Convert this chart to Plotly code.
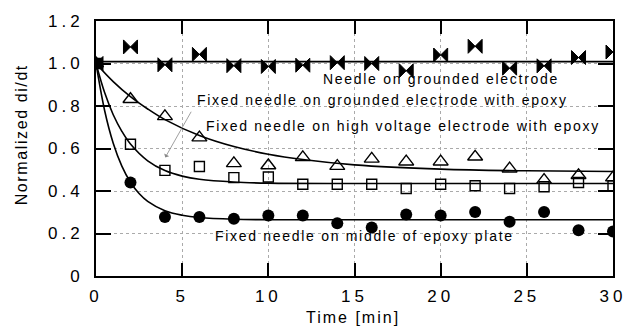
import plotly.graph_objects as go

# ---- data ----
time_min = [0, 2, 4, 6, 8, 10, 12, 14, 16, 18, 20, 22, 24, 26, 28, 30]

needle_grounded = [1.0, 1.078, 0.994, 1.043, 0.99, 0.986, 0.992, 1.004, 1.0, 0.966, 1.04, 1.081, 0.978, 0.989, 1.028, 1.054]
fixed_grounded_epoxy = [1.0, 0.832, 0.751, 0.651, 0.53, 0.52, 0.558, 0.517, 0.551, 0.538, 0.538, 0.561, 0.505, 0.451, 0.474, 0.463]
fixed_hv_epoxy = [1.0, 0.62, 0.497, 0.515, 0.463, 0.466, 0.432, 0.432, 0.432, 0.412, 0.432, 0.425, 0.412, 0.42, 0.44, 0.425]
fixed_middle_plate = [1.0, 0.44, 0.278, 0.278, 0.269, 0.285, 0.285, 0.248, 0.228, 0.289, 0.285, 0.301, 0.255, 0.301, 0.215, 0.209]

# fitted curves, values
fit_flat_t = [0, 30]
fit_flat_y = [1.009, 1.009]

fit_tri_t = [0, 1, 2, 3, 4, 6, 8, 10, 12, 15, 20, 25, 30]
fit_tri_y = [1.0, 0.915, 0.844, 0.786, 0.736, 0.661, 0.609, 0.573, 0.548, 0.523, 0.503, 0.495, 0.492]

fit_sq_t = [0, 0.5, 1, 1.5, 2, 3, 4, 5, 6, 8, 10, 15, 30]
fit_sq_y = [1.0, 0.863, 0.759, 0.681, 0.621, 0.542, 0.496, 0.470, 0.455, 0.442, 0.437, 0.435, 0.435]

fit_ci_t = [0, 0.5, 1, 1.5, 2, 2.5, 3, 4, 5, 6, 8, 10, 30]
fit_ci_y = [1.0, 0.779, 0.625, 0.517, 0.441, 0.388, 0.351, 0.307, 0.286, 0.275, 0.267, 0.265, 0.265]

x_ticks = [0, 5, 10, 15, 20, 25, 30]
x_ticktext = ["0", "5", "10", "15", "20", "25", "30"]
y_ticks = [0, 0.2, 0.4, 0.6, 0.8, 1.0, 1.2]
y_ticktext = ["0", "0.2", "0.4", "0.6", "0.8", "1.0", "1.2"]

labels = ["Needle on grounded electrode",
          "Fixed needle on grounded electrode with epoxy",
          "Fixed needle on high voltage electrode with epoxy",
          "Fixed needle on middle of epoxy plate"]
label_x = [20.0, 16.6, 17.8, 15.6]
label_y = [0.928, 0.827, 0.705, 0.189]

FONT = "Arial, Liberation Sans, sans-serif"


def spaced(s, px):
    return "<span style='letter-spacing:%spx'>%s</span>" % (px, s)


fig = go.Figure()

line_style = dict(color="black", width=1.6)
fig.add_trace(go.Scatter(x=fit_flat_t, y=fit_flat_y, mode="lines", line=line_style))
fig.add_trace(go.Scatter(x=fit_tri_t, y=fit_tri_y, mode="lines", line=dict(line_style, shape="spline")))
fig.add_trace(go.Scatter(x=fit_sq_t, y=fit_sq_y, mode="lines", line=dict(line_style, shape="spline")))
fig.add_trace(go.Scatter(x=fit_ci_t, y=fit_ci_y, mode="lines", line=dict(line_style, shape="spline")))

fig.add_trace(go.Scatter(x=time_min, y=fixed_grounded_epoxy, mode="markers",
                         marker=dict(symbol="triangle-up-open", size=13, color="black",
                                     line=dict(color="black", width=1.4))))
fig.add_trace(go.Scatter(x=time_min, y=fixed_hv_epoxy, mode="markers",
                         marker=dict(symbol="square-open", size=10, color="black",
                                     line=dict(color="black", width=1.4))))
fig.add_trace(go.Scatter(x=time_min, y=fixed_middle_plate, mode="markers",
                         marker=dict(symbol="circle", size=12, color="black")))
fig.add_trace(go.Scatter(x=time_min, y=needle_grounded, mode="markers",
                         marker=dict(symbol="bowtie", size=14, color="black",
                                     line=dict(color="black", width=1))))

annotations = []
for t, x, y in zip(labels, label_x, label_y):
    annotations.append(dict(x=x, y=y, xref="x", yref="y", text=spaced(t, 1.7), showarrow=False,
                            font=dict(family=FONT, size=14, color="black"),
                            xanchor="center", yanchor="middle"))
# arrow pointing to square marker
annotations.append(dict(x=4.02, y=0.558, ax=5.57, ay=0.78, xref="x", yref="y", axref="x", ayref="y",
                        text="", showarrow=True, arrowhead=1, arrowsize=1.2, arrowwidth=0.8,
                        arrowcolor="#888888"))
annotations.append(dict(x=-0.144, y=0.554, xref="paper", yref="paper", text=spaced("Normalized di/dt", 1.6),
                        textangle=-90, showarrow=False, font=dict(family=FONT, size=16, color="black"),
                        xanchor="center", yanchor="middle"))
annotations.append(dict(x=0.498, y=-0.162, xref="paper", yref="paper", text=spaced("Time [min]", 2),
                        showarrow=False, font=dict(family=FONT, size=16, color="black"),
                        xanchor="center", yanchor="middle"))

axis_common = dict(showline=True, linecolor="black", linewidth=2, mirror="allticks",
                   ticks="inside", tickcolor="black", tickwidth=2,
                   showgrid=True, gridcolor="#aaaaaa", griddash="dot", gridwidth=1,
                   zeroline=False, tickfont=dict(family=FONT, size=17, color="black"))

fig.update_layout(
    width=638, height=331,
    margin=dict(l=96, r=19, t=16, b=55),
    paper_bgcolor="white", plot_bgcolor="white",
    showlegend=False,
    annotations=annotations,
    xaxis=dict(axis_common, range=[0, 30], tickvals=x_ticks,
               ticktext=[spaced(s, 4) for s in x_ticktext], ticklen=13, ticklabelstandoff=4),
    yaxis=dict(axis_common, range=[0, 1.2], tickvals=y_ticks,
               ticktext=[spaced(s, 4) for s in y_ticktext], ticklen=15, ticklabelstandoff=7),
)

fig.write_html("out.html")
